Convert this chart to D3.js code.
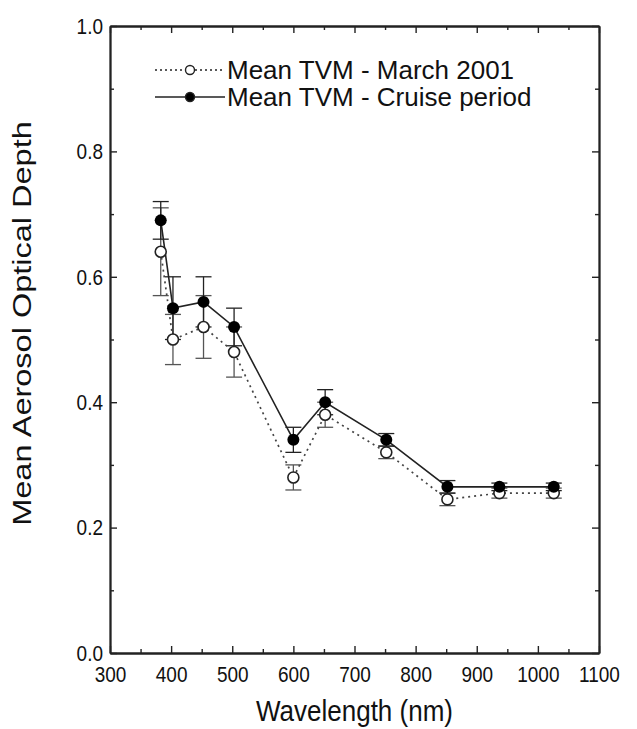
<!DOCTYPE html>
<html>
<head>
<meta charset="utf-8">
<script src="https://cdn.jsdelivr.net/npm/d3@7"></script>
<style>
    body { margin: 0; background: #fff; }
    text { font-family: 'Liberation Sans', Arial, sans-serif; fill: #111; }
</style>
</head>
<body>
<div id="chart"></div>
<script>
// wavelengths (nm)
const wavelengths = [383, 403, 453, 503, 600, 652, 752, 852, 937, 1026];

// Mean TVM - Cruise period (filled circles, solid line)
const cruiseMean = [0.69, 0.55, 0.56, 0.52, 0.34, 0.40, 0.34, 0.265, 0.265, 0.265];
const cruiseErr = [0.03, 0.05, 0.04, 0.03, 0.02, 0.02, 0.01, 0.01, 0.006, 0.006];

// Mean TVM - March 2001 (open circles, dotted line)
const marchMean = [0.64, 0.50, 0.52, 0.48, 0.28, 0.38, 0.32, 0.245, 0.255, 0.255];
const marchErr = [0.07, 0.04, 0.05, 0.04, 0.02, 0.02, 0.01, 0.01, 0.008, 0.008];

const xTicks = [300, 400, 500, 600, 700, 800, 900, 1000, 1100];
const yTicks = [0.0, 0.2, 0.4, 0.6, 0.8, 1.0];
const legendLabels = ['Mean TVM - March 2001', 'Mean TVM - Cruise period'];

class AodChart {
    constructor(_config) {
        this.config = {
            parentElement: _config.parentElement,
            containerWidth: 637,
            containerHeight: 729,
            margin: { top: 26, right: 38, bottom: 76, left: 110 }
        };
        this.march = wavelengths.map((w, i) => ({ x: w, y: marchMean[i], e: marchErr[i] }));
        this.cruise = wavelengths.map((w, i) => ({ x: w, y: cruiseMean[i], e: cruiseErr[i] }));
        this.initVis();
    }

    initVis() {
        const vis = this;
        const m = vis.config.margin;
        vis.width = vis.config.containerWidth - m.left - m.right;
        vis.height = vis.config.containerHeight - m.top - m.bottom;

        vis.svg = d3.select(vis.config.parentElement)
            .append('svg')
            .attr('width', vis.config.containerWidth)
            .attr('height', vis.config.containerHeight);

        vis.chart = vis.svg.append('g')
            .attr('transform', `translate(${m.left},${m.top})`);

        vis.xScale = d3.scaleLinear().domain([300, 1100]).range([0, vis.width]);
        vis.yScale = d3.scaleLinear().domain([0, 1]).range([vis.height, 0]);

        vis.renderAxes();
        vis.renderVis();
        vis.renderLegend();
    }

    renderAxes() {
        const vis = this;
        const xMinor = d3.range(350, 1100, 100);
        const yMinor = d3.range(0.1, 1.0, 0.2);

        // ticks point inward on all four sides
        const addAxis = (axis, transform) => vis.chart.append('g')
            .attr('class', 'axis')
            .attr('transform', transform)
            .call(axis);

        const bottom = addAxis(d3.axisBottom(vis.xScale).tickValues(xTicks).tickFormat(d3.format('d'))
            .tickSizeInner(-7).tickSizeOuter(0).tickPadding(11), `translate(0,${vis.height})`);
        addAxis(d3.axisBottom(vis.xScale).tickValues(xMinor).tickFormat('')
            .tickSizeInner(-4).tickSizeOuter(0), `translate(0,${vis.height})`);
        addAxis(d3.axisTop(vis.xScale).tickValues(xTicks).tickFormat('')
            .tickSizeInner(-7).tickSizeOuter(0), 'translate(0,0)');
        addAxis(d3.axisTop(vis.xScale).tickValues(xMinor).tickFormat('')
            .tickSizeInner(-4).tickSizeOuter(0), 'translate(0,0)');

        const left = addAxis(d3.axisLeft(vis.yScale).tickValues(yTicks).tickFormat(d3.format('.1f'))
            .tickSizeInner(-7).tickSizeOuter(0).tickPadding(7), 'translate(0,0)');
        addAxis(d3.axisLeft(vis.yScale).tickValues(yMinor).tickFormat('')
            .tickSizeInner(-4).tickSizeOuter(0), 'translate(0,0)');
        addAxis(d3.axisRight(vis.yScale).tickValues(yTicks).tickFormat('')
            .tickSizeInner(-7).tickSizeOuter(0), `translate(${vis.width},0)`);
        addAxis(d3.axisRight(vis.yScale).tickValues(yMinor).tickFormat('')
            .tickSizeInner(-4).tickSizeOuter(0), `translate(${vis.width},0)`);

        vis.chart.selectAll('.axis .domain').attr('stroke', '#222').attr('stroke-width', 1.8);
        vis.chart.selectAll('.axis .tick line').attr('stroke', '#222').attr('stroke-width', 1.4);

        // labels in the scan look tall and narrow
        bottom.selectAll('text')
            .style('font-size', '19px')
            .attr('fill', '#1a1a1a')
            .attr('transform', 'scale(1,1.2)');
        left.selectAll('text')
            .style('font-size', '19px')
            .attr('fill', '#1a1a1a')
            .attr('transform', 'scale(1,1.2)');

        vis.svg.append('text')
            .attr('transform', `translate(${vis.config.margin.left + vis.width / 2},${vis.config.containerHeight - 8}) scale(1,1.1)`)
            .attr('text-anchor', 'middle')
            .style('font-size', '26px')
            .text('Wavelength (nm)');

        vis.svg.append('text')
            .attr('transform', `translate(31,${vis.config.margin.top + vis.height / 2 - 16}) rotate(-90) scale(1.25,1)`)
            .attr('text-anchor', 'middle')
            .style('font-size', '26px')
            .text('Mean Aerosol Optical Depth');
    }

    drawErrorBars(data, cls, colour) {
        const vis = this;
        const cap = 8;
        const g = vis.chart.append('g').attr('class', cls);
        g.selectAll('line.stem')
            .data(data)
            .join('line')
            .attr('class', 'stem')
            .attr('x1', d => vis.xScale(d.x))
            .attr('x2', d => vis.xScale(d.x))
            .attr('y1', d => vis.yScale(d.y - d.e))
            .attr('y2', d => vis.yScale(d.y + d.e))
            .attr('stroke', colour)
            .attr('stroke-width', 1.3);
        ['lo', 'hi'].forEach(side => {
            g.selectAll(`line.cap-${side}`)
                .data(data)
                .join('line')
                .attr('class', `cap-${side}`)
                .attr('x1', d => vis.xScale(d.x) - cap)
                .attr('x2', d => vis.xScale(d.x) + cap)
                .attr('y1', d => vis.yScale(side === 'lo' ? d.y - d.e : d.y + d.e))
                .attr('y2', d => vis.yScale(side === 'lo' ? d.y - d.e : d.y + d.e))
                .attr('stroke', colour)
                .attr('stroke-width', 1.3);
        });
    }

    renderVis() {
        const vis = this;
        const line = d3.line().x(d => vis.xScale(d.x)).y(d => vis.yScale(d.y));

        vis.drawErrorBars(vis.march, 'march-err', '#555');
        vis.drawErrorBars(vis.cruise, 'cruise-err', '#222');

        vis.chart.append('path')
            .datum(vis.march)
            .attr('d', line)
            .attr('fill', 'none')
            .attr('stroke', '#444')
            .attr('stroke-width', 1.7)
            .attr('stroke-dasharray', '2,4');

        vis.chart.append('path')
            .datum(vis.cruise)
            .attr('d', line)
            .attr('fill', 'none')
            .attr('stroke', '#222')
            .attr('stroke-width', 1.6);

        vis.chart.selectAll('.march-dot')
            .data(vis.march)
            .join('circle')
            .attr('class', 'march-dot')
            .attr('cx', d => vis.xScale(d.x))
            .attr('cy', d => vis.yScale(d.y))
            .attr('r', 5.5)
            .attr('fill', '#fff')
            .attr('stroke', '#222')
            .attr('stroke-width', 1.6);

        vis.chart.selectAll('.cruise-dot')
            .data(vis.cruise)
            .join('circle')
            .attr('class', 'cruise-dot')
            .attr('cx', d => vis.xScale(d.x))
            .attr('cy', d => vis.yScale(d.y))
            .attr('r', 6)
            .attr('fill', '#000');
    }

    renderLegend() {
        const vis = this;
        const legend = vis.svg.append('g').attr('class', 'legend');
        const rows = legend.selectAll('g')
            .data(legendLabels)
            .join('g')
            .attr('transform', (d, i) => `translate(155,${70 + i * 27})`);

        rows.append('line')
            .attr('x1', 0).attr('x2', 70)
            .attr('stroke', '#222')
            .attr('stroke-width', 1.5)
            .attr('stroke-dasharray', (d, i) => i === 0 ? '2,3' : null);

        rows.append('circle')
            .attr('cx', 35)
            .attr('r', 4.5)
            .attr('fill', (d, i) => i === 0 ? '#fff' : '#000')
            .attr('stroke', '#222')
            .attr('stroke-width', 1.4);

        rows.append('text')
            .attr('x', 72)
            .attr('dy', '0.36em')
            .style('font-size', '26px')
            .text(d => d);
    }
}

new AodChart({ parentElement: '#chart' });
</script>
</body>
</html>
